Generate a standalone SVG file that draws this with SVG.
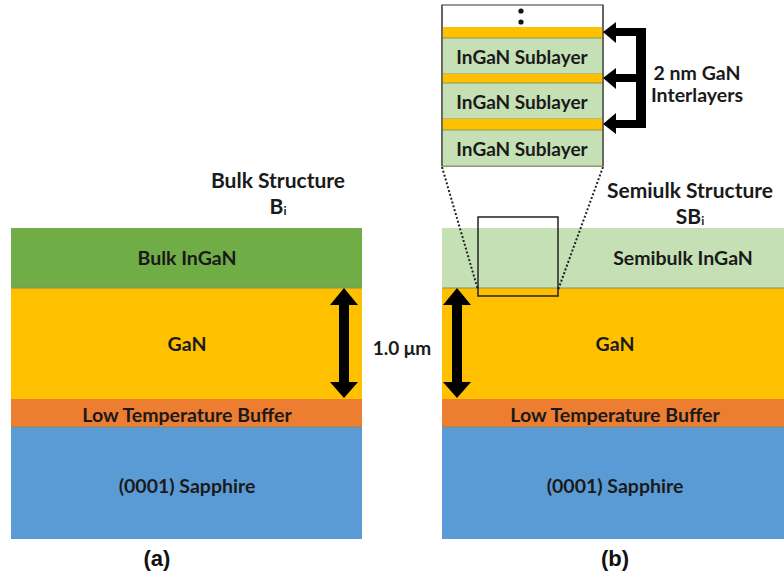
<svg xmlns="http://www.w3.org/2000/svg" width="784" height="581" viewBox="0 0 784 581">
<style>
.t{font-family:Lato,"Open Sans","Liberation Sans",sans-serif;font-weight:700;fill:#1a1a1a;text-anchor:middle;dominant-baseline:central}
.s19{font-size:19.5px}.s18{font-size:19px}.s21{font-size:21px}
.lab{font-family:"Liberation Sans",Arial,sans-serif;font-weight:700;font-size:22px;fill:#111;text-anchor:middle;dominant-baseline:central}
.ingan{fill:#70AD47}.gan{fill:#FFC000}.ltb{fill:#ED7D31}.sap{fill:#5B9BD5}.sb{fill:#C5E0B4}
.sep{stroke:#8a8a6a;stroke-width:1}
</style>
<rect width="784" height="581" fill="#fff"/>
<g id="stack-a">
<rect class="ingan" x="11" y="228" width="351" height="60"/>
<rect class="gan" x="11" y="288" width="351" height="111"/>
<rect class="ltb" x="11" y="399" width="351" height="28"/>
<rect class="sap" x="11" y="427" width="351" height="112"/>
<line class="sep" x1="11" y1="288" x2="362" y2="288"/>
<line class="sep" x1="11" y1="427" x2="362" y2="427"/>
<text class="t s19" x="187" y="257">Bulk InGaN</text>
<text class="t s19" x="187" y="343">GaN</text>
<text class="t s19" x="187" y="414">Low Temperature Buffer</text>
<text class="t s19" x="187" y="485">(0001) Sapphire</text>
<text class="t s21" x="278" y="179">Bulk Structure</text>
<text class="t s21" x="278" y="205">B<tspan font-size="12" dy="5">i</tspan></text>
<text class="lab" x="157" y="558">(a)</text>
</g>
<g id="stack-b">
<rect class="sb" x="442" y="228" width="351" height="60"/>
<rect class="gan" x="442" y="288" width="351" height="111"/>
<rect class="ltb" x="442" y="399" width="351" height="28"/>
<rect class="sap" x="442" y="427" width="351" height="112"/>
<line class="sep" x1="442" y1="288" x2="784" y2="288"/>
<line class="sep" x1="442" y1="427" x2="784" y2="427"/>
<text class="t s19" x="683" y="257">Semibulk InGaN</text>
<text class="t s19" x="615" y="343">GaN</text>
<text class="t s19" x="615" y="414">Low Temperature Buffer</text>
<text class="t s19" x="615" y="485">(0001) Sapphire</text>
<text class="t s21" x="690" y="189">Semiulk Structure</text>
<text class="t s21" x="690" y="215">SB<tspan font-size="12" dy="5">i</tspan></text>
<text class="lab" x="615" y="558">(b)</text>
</g>
<g id="zoom-box">
<rect x="442" y="5" width="161" height="161" fill="#fff" stroke="#777" stroke-width="1.5"/>
<rect class="gan" x="442" y="27" width="161" height="11"/>
<rect class="sb" x="442" y="38" width="161" height="36" stroke="#8a9a5a" stroke-width="1"/>
<rect class="gan" x="442" y="74" width="161" height="9"/>
<rect class="sb" x="442" y="83" width="161" height="36" stroke="#8a9a5a" stroke-width="1"/>
<rect class="gan" x="442" y="119" width="161" height="11"/>
<rect class="sb" x="442" y="130" width="161" height="36" stroke="#8a9a5a" stroke-width="1"/>
<line x1="442" y1="5" x2="442" y2="166" stroke="#555" stroke-width="1.5"/>
<line x1="603" y1="5" x2="603" y2="166" stroke="#555" stroke-width="1.5"/>
<circle cx="521" cy="11" r="2.6" fill="#111"/>
<circle cx="521" cy="22" r="2.6" fill="#111"/>
<text class="t s18" x="522" y="56">InGaN Sublayer</text>
<text class="t s18" x="522" y="101">InGaN Sublayer</text>
<text class="t s18" x="522" y="148">InGaN Sublayer</text>
<text class="t s19" x="697" y="72">2 nm GaN</text>
<text class="t s19" x="697" y="94">Interlayers</text>
</g>
<g id="inset">
<rect x="478" y="217" width="80" height="79" fill="none" stroke="#222" stroke-width="1.5"/>
</g>
<g id="connectors">
<line x1="442" y1="167" x2="478" y2="290" stroke="#222" stroke-width="2" stroke-dasharray="2,2"/>
<line x1="603" y1="167" x2="558" y2="290" stroke="#222" stroke-width="2" stroke-dasharray="2,2"/>
<path d="M344,288 L358,305 L349,305 L349,382 L358,382 L344,398 L330,382 L339,382 L339,305 L330,305 Z" fill="#000"/>
<path d="M457,288 L471,305 L462,305 L462,382 L471,382 L457,398 L443,382 L452,382 L452,305 L443,305 Z" fill="#000"/>
<text class="t s18" x="402" y="347">1.0 μm</text>
<path d="M636,28 L646,28 L646,128 L616,128 L616,134 L603,124 L616,113 L616,120 L636,120 L636,82 L616,82 L616,89 L603,78 L616,68 L616,74 L636,74 L636,36 L616,36 L616,43 L603,32 L616,22 L616,28 Z" fill="#000"/>
</g>
</svg>
